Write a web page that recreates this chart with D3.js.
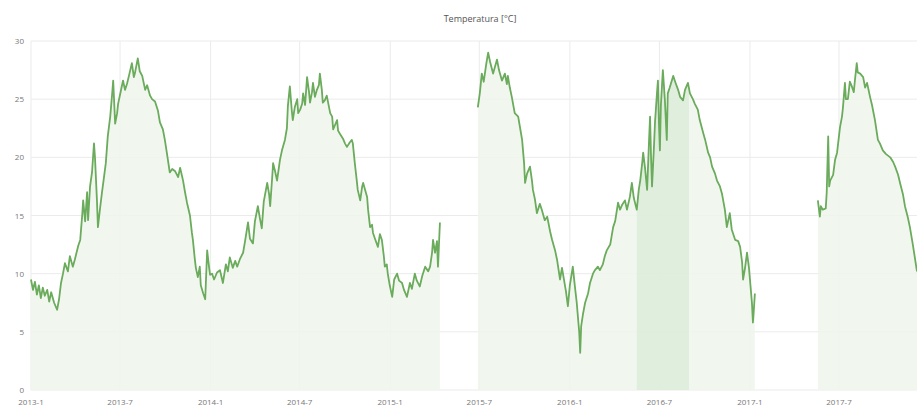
<!DOCTYPE html>
<html>
<head>
<meta charset="utf-8">
<script src="https://cdn.jsdelivr.net/npm/d3@7"></script>
<style>
  body { margin: 0; background: #fff; }
  svg { display: block; font-family: "Open Sans", "DejaVu Sans", sans-serif; }
</style>
</head>
<body>
<svg width="917" height="407"></svg>
<script>
// readings, split where the logger has gaps
const dates1 = ['2013-01-01','2013-01-05','2013-01-09','2013-01-13','2013-01-17','2013-01-21','2013-01-25','2013-01-29','2013-02-03','2013-02-07',
  '2013-02-11','2013-02-17','2013-02-23','2013-02-27','2013-03-03','2013-03-07','2013-03-11','2013-03-17','2013-03-21','2013-03-27',
  '2013-03-31','2013-04-07','2013-04-11','2013-04-15','2013-04-17','2013-04-21','2013-04-25','2013-04-27','2013-05-01','2013-05-05',
  '2013-05-09','2013-05-11','2013-05-15','2013-05-17','2013-05-21','2013-05-25','2013-05-29','2013-06-02','2013-06-06','2013-06-11',
  '2013-06-15','2013-06-17','2013-06-21','2013-06-25','2013-06-27','2013-07-01','2013-07-07','2013-07-11','2013-07-15','2013-07-19',
  '2013-07-25','2013-07-29','2013-07-31','2013-08-06','2013-08-10','2013-08-15','2013-08-21','2013-08-25','2013-08-31','2013-09-04',
  '2013-09-10','2013-09-16','2013-09-20','2013-09-26','2013-09-30','2013-10-04','2013-10-10','2013-10-15','2013-10-21','2013-10-27',
  '2013-10-31','2013-11-06','2013-11-10','2013-11-14','2013-11-20','2013-11-24','2013-11-26','2013-11-30','2013-12-02','2013-12-06',
  '2013-12-10','2013-12-12','2013-12-17','2013-12-21','2013-12-25','2013-12-29','2013-12-31','2014-01-04','2014-01-08','2014-01-14',
  '2014-01-20','2014-01-26','2014-02-01','2014-02-05','2014-02-09','2014-02-15','2014-02-20','2014-02-24','2014-03-02','2014-03-08',
  '2014-03-12','2014-03-18','2014-03-22','2014-03-28','2014-04-01','2014-04-07','2014-04-11','2014-04-15','2014-04-19','2014-04-26',
  '2014-04-30','2014-05-02','2014-05-06','2014-05-08','2014-05-12','2014-05-16','2014-05-22','2014-05-26','2014-06-01','2014-06-05',
  '2014-06-07','2014-06-11','2014-06-15','2014-06-17','2014-06-21','2014-06-26','2014-06-28','2014-07-02','2014-07-06','2014-07-08',
  '2014-07-12','2014-07-16','2014-07-20','2014-07-22','2014-07-26','2014-07-28','2014-08-01','2014-08-05','2014-08-09','2014-08-11',
  '2014-08-15','2014-08-17','2014-08-21','2014-08-25','2014-09-01','2014-09-05','2014-09-07','2014-09-11','2014-09-15','2014-09-17',
  '2014-09-21','2014-09-27','2014-10-01','2014-10-05','2014-10-11','2014-10-15','2014-10-17','2014-10-21','2014-10-25','2014-10-27',
  '2014-11-01','2014-11-05','2014-11-07','2014-11-11','2014-11-15','2014-11-17','2014-11-21','2014-11-25','2014-11-27','2014-12-01',
  '2014-12-07','2014-12-11','2014-12-15','2014-12-19','2014-12-21','2014-12-25','2014-12-27','2014-12-31','2015-01-05','2015-01-09',
  '2015-01-15','2015-01-19','2015-01-25','2015-01-29','2015-02-04','2015-02-08','2015-02-10','2015-02-14','2015-02-20','2015-02-24',
  '2015-03-02','2015-03-07','2015-03-13','2015-03-19','2015-03-23','2015-03-27','2015-03-29','2015-04-02','2015-04-06','2015-04-08',
  '2015-04-10','2015-04-12']
const temps1 = [9.5,8.6,9.3,8.2,9.0,7.9,8.8,8.1,8.6,7.6,
  8.4,7.5,6.9,7.8,9.2,10.0,10.9,10.2,11.5,10.6,
  11.2,12.4,12.9,15.0,16.3,14.5,17.0,14.6,17.5,18.7,
  21.2,20.0,16.3,14.0,15.5,16.9,18.2,19.5,21.8,23.5,
  25.5,26.6,22.9,23.8,24.6,25.4,26.6,25.8,26.3,27.0,
  28.1,26.9,27.2,28.5,27.4,27.0,25.8,26.2,25.3,25.0,
  24.8,24.0,23.0,22.4,21.5,20.4,18.7,19.0,18.8,18.3,
  19.1,18.0,17.0,16.1,15.0,13.5,12.9,11.2,10.5,9.7,
  10.6,9.0,8.3,7.8,12.0,10.5,9.9,10.0,9.5,10.1,
  10.3,9.2,10.8,10.2,11.4,10.5,11.1,10.6,11.3,11.8,
  12.8,14.4,13.0,12.6,14.5,15.8,14.8,13.9,16.2,17.8,
  16.8,15.8,18.2,19.5,18.8,18.0,19.8,20.6,21.5,22.5,
  24.4,26.1,24.0,23.2,24.3,25.0,23.8,24.1,24.6,25.5,
  24.5,26.9,25.6,24.7,25.6,26.4,25.2,25.8,26.2,27.2,
  25.8,24.7,24.9,25.3,23.8,23.5,22.4,22.8,23.2,22.3,
  22.0,21.6,21.2,20.9,21.3,21.5,21.2,19.5,18.0,17.2,
  16.3,17.5,17.8,17.2,16.6,15.5,14.0,14.2,13.5,13.0,
  12.3,13.4,12.9,11.5,10.6,10.8,10.0,9.0,8.0,9.5,
  10.0,9.4,9.2,8.6,8.0,8.8,9.2,8.7,10.0,9.4,
  8.9,9.8,10.6,10.2,10.6,11.8,12.9,11.8,12.8,10.6,
  12.5,14.4]

const dates2 = ['2015-06-28','2015-07-02','2015-07-06','2015-07-10','2015-07-15','2015-07-19','2015-07-23','2015-07-29','2015-08-02','2015-08-06',
  '2015-08-10','2015-08-16','2015-08-22','2015-08-26','2015-08-28','2015-09-01','2015-09-05','2015-09-11','2015-09-18','2015-09-22',
  '2015-09-26','2015-09-30','2015-10-02','2015-10-06','2015-10-12','2015-10-16','2015-10-18','2015-10-22','2015-10-26','2015-11-01',
  '2015-11-05','2015-11-11','2015-11-16','2015-11-22','2015-11-26','2015-12-02','2015-12-06','2015-12-12','2015-12-16','2015-12-18',
  '2015-12-24','2015-12-28','2016-01-01','2016-01-07','2016-01-11','2016-01-15','2016-01-20','2016-01-22','2016-01-24','2016-01-28',
  '2016-02-01','2016-02-07','2016-02-11','2016-02-17','2016-02-21','2016-02-27','2016-03-02','2016-03-08','2016-03-12','2016-03-16',
  '2016-03-23','2016-03-29','2016-04-02','2016-04-08','2016-04-12','2016-04-16','2016-04-22','2016-04-26','2016-05-02','2016-05-06',
  '2016-05-10','2016-05-16','2016-05-20','2016-05-23','2016-05-27','2016-05-29','2016-06-02','2016-06-06','2016-06-10','2016-06-12',
  '2016-06-14','2016-06-16','2016-06-20','2016-06-22','2016-06-26','2016-06-28','2016-06-30','2016-07-02','2016-07-04','2016-07-08',
  '2016-07-12','2016-07-16','2016-07-18','2016-07-22','2016-07-29','2016-08-02','2016-08-08','2016-08-12','2016-08-18','2016-08-22',
  '2016-08-28','2016-09-01','2016-09-07','2016-09-11','2016-09-17','2016-09-21','2016-09-28','2016-10-02','2016-10-08','2016-10-12',
  '2016-10-16','2016-10-22','2016-10-26','2016-11-01','2016-11-05','2016-11-11','2016-11-15','2016-11-21','2016-11-25','2016-12-02',
  '2016-12-08','2016-12-12','2016-12-16','2016-12-18','2016-12-22','2016-12-26','2016-12-30','2017-01-01','2017-01-05','2017-01-07',
  '2017-01-09','2017-01-11']
const temps2 = [24.3,25.5,27.2,26.5,28.0,29.0,28.2,27.2,27.8,28.4,
  27.5,26.6,27.2,26.3,27.0,26.0,25.2,23.8,23.5,22.5,
  21.5,19.5,17.8,18.6,19.2,18.0,17.2,16.4,15.2,16.0,
  15.5,14.6,14.9,13.6,12.9,12.0,11.2,9.5,10.5,10.0,
  8.5,7.2,9.0,10.6,9.0,7.5,5.0,3.2,5.5,6.6,
  7.5,8.3,9.2,10.0,10.3,10.6,10.3,10.8,11.5,12.0,
  12.5,14.0,14.5,16.1,15.5,15.9,16.3,15.5,16.6,17.8,
  16.5,15.5,17.2,18.0,19.5,20.4,19.0,17.2,21.5,23.5,
  20.0,17.5,21.0,23.0,25.5,26.6,23.0,20.6,24.5,27.5,
  25.0,21.5,25.5,26.0,27.0,26.5,25.8,25.2,24.9,25.8,
  26.4,25.5,25.0,24.6,24.1,23.2,22.1,21.5,20.4,20.0,
  19.2,18.6,18.0,17.5,16.9,15.5,14.0,15.2,13.8,12.9,
  12.8,12.3,11.0,9.5,10.5,11.8,10.5,9.5,7.5,5.8,
  7.0,8.3]

const dates3 = ['2017-05-19','2017-05-23','2017-05-25','2017-05-29','2017-06-04','2017-06-06','2017-06-09','2017-06-11','2017-06-13','2017-06-19',
  '2017-06-23','2017-06-27','2017-07-03','2017-07-07','2017-07-09','2017-07-13','2017-07-15','2017-07-19','2017-07-23','2017-07-27',
  '2017-07-31','2017-08-02','2017-08-06','2017-08-08','2017-08-13','2017-08-19','2017-08-23','2017-08-27','2017-09-02','2017-09-06',
  '2017-09-12','2017-09-18','2017-09-22','2017-09-28','2017-10-04','2017-10-13','2017-10-19','2017-10-23','2017-10-29','2017-11-02',
  '2017-11-08','2017-11-12','2017-11-18','2017-11-22','2017-11-28','2017-12-02','2017-12-06','2017-12-12']
const temps3 = [16.3,14.9,15.8,15.5,15.6,17.0,21.8,17.5,18.0,18.5,
  19.8,20.4,22.6,23.5,24.3,26.4,25.0,25.0,26.5,26.1,
  25.6,26.5,28.1,27.3,27.2,26.9,26.0,26.4,25.2,24.5,
  23.2,21.5,21.2,20.6,20.3,20.0,19.6,19.2,18.5,17.8,
  16.8,15.8,14.8,14.0,12.5,11.4,10.3,9.8]

// stretch of summer 2016 that shows a darker fill
const overlapRange = ['2016-05-16', '2016-08-30']

const yTicks = [0, 5, 10, 15, 20, 25, 30]
const xTickDates = ['2013-01-01','2013-07-01','2014-01-01','2014-07-01','2015-01-01','2015-07-01',
  '2016-01-01','2016-07-01','2017-01-01','2017-07-01']
const xTickLabels = ['2013-1','2013-7','2014-1','2014-7','2015-1','2015-7','2016-1','2016-7','2017-1','2017-7']

const parse = d3.timeParse('%Y-%m-%d')
const segments = [[dates1, temps1], [dates2, temps2], [dates3, temps3]]
  .map(([ds, vs]) => ds.map((d, i) => ({ date: parse(d), value: vs[i] })))

const margin = { top: 41, left: 31, bottom: 17 }
const height = 407
const svg = d3.select('svg')

const x = d3.scaleTime()
  .domain([parse('2013-01-01'), parse('2017-12-31')])
  .range([margin.left, margin.left + 1825 * 0.4921])
const y = d3.scaleLinear().domain([0, 30]).range([height - margin.bottom, margin.top])

// grid
svg.append('g')
  .selectAll('line')
  .data(yTicks)
  .enter()
  .append('line')
  .attr('x1', margin.left)
  .attr('x2', 917)
  .attr('y1', d => y(d))
  .attr('y2', d => y(d))
  .attr('stroke', '#ebebeb')

svg.append('g')
  .selectAll('line')
  .data(xTickDates)
  .enter()
  .append('line')
  .attr('x1', d => x(parse(d)))
  .attr('x2', d => x(parse(d)))
  .attr('y1', y(30))
  .attr('y2', y(0))
  .attr('stroke', '#ebebeb')

const area = d3.area()
  .x(d => x(d.date))
  .y0(y(0))
  .y1(d => y(d.value))
const line = d3.line()
  .x(d => x(d.date))
  .y(d => y(d.value))

svg.append('g')
  .selectAll('path')
  .data(segments)
  .enter()
  .append('path')
  .attr('d', area)
  .attr('fill', '#eef6ec')
  .attr('fill-opacity', 0.85)

// second fill layer over the overlap range
svg.append('clipPath')
  .attr('id', 'overlap')
  .append('rect')
  .attr('x', x(parse(overlapRange[0])))
  .attr('width', x(parse(overlapRange[1])) - x(parse(overlapRange[0])))
  .attr('y', 0)
  .attr('height', height)

svg.append('path')
  .datum(segments[1])
  .attr('d', area)
  .attr('clip-path', 'url(#overlap)')
  .attr('fill', '#d9ead5')
  .attr('fill-opacity', 0.7)

svg.append('g')
  .selectAll('path')
  .data(segments)
  .enter()
  .append('path')
  .attr('d', line)
  .attr('fill', 'none')
  .attr('stroke', '#6aab5c')
  .attr('stroke-width', 1.8)
  .attr('stroke-linejoin', 'round')

// axis labels
svg.append('g')
  .selectAll('text')
  .data(yTicks)
  .enter()
  .append('text')
  .attr('x', 24)
  .attr('y', d => y(d) + 3)
  .attr('text-anchor', 'end')
  .attr('font-size', 8)
  .attr('fill', '#777')
  .text(d => d)

svg.append('g')
  .selectAll('text')
  .data(xTickDates)
  .enter()
  .append('text')
  .attr('x', d => x(parse(d)))
  .attr('y', 405)
  .attr('text-anchor', 'middle')
  .attr('font-size', 8)
  .attr('fill', '#777')
  .text((d, i) => xTickLabels[i])

svg.append('text')
  .attr('x', 480)
  .attr('y', 22)
  .attr('text-anchor', 'middle')
  .attr('font-size', 9)
  .attr('fill', '#555')
  .text('Temperatura [°C]')
</script>
</body>
</html>
